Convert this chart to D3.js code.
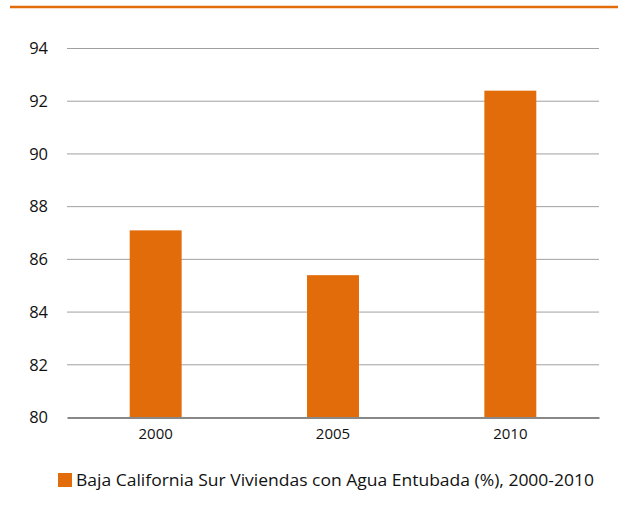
<!DOCTYPE html>
<html>
<head>
<meta charset="utf-8">
<script src="https://cdn.jsdelivr.net/npm/d3@7"></script>
<style>
  body { margin: 0; background: #fff; }
  svg { display: block; font-family: "Open Sans", sans-serif; }
</style>
</head>
<body>
<svg id="chart"></svg>
<script>
// data
const years = ["2000", "2005", "2010"];
const values = [87.1, 85.4, 92.4];
const yTicks = [80, 82, 84, 86, 88, 90, 92, 94];
const seriesName = "Baja California Sur Viviendas con Agua Entubada (%), 2000-2010";

const width = 618, height = 516;
const margin = { top: 48.5, right: 19, bottom: 98.5, left: 67 };
const innerW = width - margin.left - margin.right;
const innerH = height - margin.top - margin.bottom;
const orange = "#E36C0A";

const svg = d3.select("#chart")
    .attr("width", width)
    .attr("height", height);

// top rule
svg.append("line")
    .attr("x1", 10).attr("x2", width)
    .attr("y1", 7).attr("y2", 7)
    .attr("stroke", orange)
    .attr("stroke-width", 2.5);

const chart = svg.append("g")
    .attr("transform", `translate(${margin.left},${margin.top})`);

const x = d3.scaleBand()
    .domain(years)
    .range([0, innerW])
    .paddingInner(0.707)
    .paddingOuter(0.3535);

const y = d3.scaleLinear()
    .domain([80, 94])
    .range([innerH, 0]);

// gridlines
chart.append("g")
    .selectAll("line")
    .data(yTicks.filter(d => d !== 80))
    .join("line")
    .attr("x1", 0).attr("x2", innerW)
    .attr("y1", d => y(d)).attr("y2", d => y(d))
    .attr("stroke", "#a0a0a0")
    .attr("stroke-width", 1);

// y labels
const yAxis = d3.axisLeft(y).tickValues(yTicks).tickSize(0).tickPadding(19);
chart.append("g")
    .call(yAxis)
    .call(g => g.select(".domain").remove())
    .selectAll("text")
    .attr("font-size", "16.5px")
    .attr("font-family", "Open Sans, sans-serif")
    .attr("fill", "#111");

// bars
chart.selectAll(".bar")
    .data(years.map((d, i) => ({ year: d, value: values[i] })))
    .join("rect")
    .attr("class", "bar")
    .attr("x", d => x(d.year))
    .attr("width", x.bandwidth())
    .attr("y", d => y(d.value))
    .attr("height", d => innerH - y(d.value))
    .attr("fill", orange);

// x axis
const xAxis = d3.axisBottom(x).tickSize(0).tickPadding(11);
chart.append("g")
    .attr("transform", `translate(0,${innerH})`)
    .call(xAxis)
    .call(g => g.select(".domain")
        .attr("stroke", "#888")
        .attr("stroke-width", 2))
    .selectAll("text")
    .attr("font-size", "15px")
    .attr("font-family", "Open Sans, sans-serif")
    .attr("fill", "#111");

// legend
const legend = svg.append("g").attr("transform", "translate(58,473)");
legend.append("rect")
    .attr("width", 14).attr("height", 14)
    .attr("fill", orange);
legend.append("text")
    .attr("x", 18).attr("y", 12.5)
    .attr("font-size", "16px")
    .attr("font-family", "Open Sans, sans-serif")
    .attr("fill", "#111")
    .attr("textLength", 518)
    .attr("lengthAdjust", "spacingAndGlyphs")
    .text(seriesName);
</script>
</body>
</html>
